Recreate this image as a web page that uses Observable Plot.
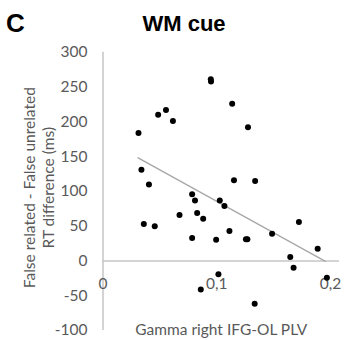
<!DOCTYPE html>
<html>
<head>
<meta charset="utf-8">
<script src="https://cdn.jsdelivr.net/npm/d3@7"></script>
<script src="https://cdn.jsdelivr.net/npm/@observablehq/plot@0.6"></script>
<style>
  html, body { margin: 0; padding: 0; background: #fff; }
  #chart svg { display: block; }
</style>
</head>
<body>
<div id="chart"></div>
<script>
// Data
const plvValues = [0.0948, 0.0950, 0.0485, 0.0554, 0.0615, 0.0312, 0.1136, 0.1275, 0.0338, 0.0404,
                   0.1152, 0.1338, 0.0784, 0.0809, 0.1027, 0.1068, 0.0673, 0.0828, 0.0881, 0.0359,
                   0.0455, 0.0784, 0.0995, 0.1112, 0.1257, 0.1270, 0.1487, 0.1723, 0.1888, 0.1647,
                   0.1676, 0.1015, 0.0860, 0.1334, 0.1969];
const rtDiffValues = [261, 258, 210, 217, 201, 184, 226, 192, 131, 110,
                      116, 115, 96, 87, 87, 79, 66, 69, 60.5, 53,
                      50, 33, 30.5, 43, 31, 31, 39, 56, 17.5, 5.6,
                      -9.8, -19.3, -41.1, -61.7, -24.3];
const trendX = [0.0309, 0.1956];
const trendY = [148.2, -0.5];
const yTicks = [-100, -50, 0, 50, 100, 150, 200, 250, 300];
const xTicks = [0, 0.1, 0.2];
const xTickLabels = ["0", "0,1", "0,2"];
const panelLabel = "C";
const titleText = "WM cue";
const xTitle = "Gamma right IFG-OL PLV";
const yTitle = "False related - False unrelated\nRT difference (ms)";

const points = plvValues.map((x, i) => ({x, y: rtDiffValues[i]}));
const trend = trendX.map((x, i) => ({x, y: trendY[i]}));

const gray = "#595959";
const axisGray = "#c6c6c6";
const fs = 15.5;

const chart = Plot.plot({
  width: 344,
  height: 340,
  marginLeft: 102.5,
  marginRight: 5,
  marginTop: 51.7,
  marginBottom: 10,
  style: {fontFamily: "Lato, 'Open Sans', sans-serif", background: "#fff", overflow: "visible"},
  x: {domain: [0, 0.208], axis: null},
  y: {domain: [-100, 300], axis: null},
  marks: [
    Plot.ruleY([0], {stroke: axisGray, strokeWidth: 1.5}),
    Plot.ruleX([0], {stroke: axisGray, strokeWidth: 1.5}),
    Plot.text(yTicks, {x: d => 0, y: d => d, text: d => String(d), textAnchor: "end", dx: -15.5, fill: gray, fontSize: fs}),
    Plot.text(xTicks, {x: d => d, y: d => 0, text: (d, i) => xTickLabels[i], dy: 23, fill: gray, fontSize: fs}),
    Plot.line(trend, {x: "x", y: "y", stroke: "#a8a8a8", strokeWidth: 1.4}),
    Plot.dot(points, {x: "x", y: "y", r: 3, fill: "#000", stroke: "none"}),
    Plot.text([xTitle], {frameAnchor: "bottom", text: d => d, textAnchor: "middle", lineAnchor: "middle", dy: 0, fill: gray, fontSize: fs}),
    Plot.text([yTitle], {frameAnchor: "top-left", text: d => d, rotate: -90, textAnchor: "middle", dx: -65, dy: 135.5, lineAnchor: "middle", lineHeight: 1.23, fill: gray, fontSize: fs}),
    Plot.text([titleText], {frameAnchor: "top-left", text: d => d, textAnchor: "middle", dx: 81, dy: -28, lineAnchor: "middle", fontWeight: "bold", fontFamily: "'Liberation Sans', Arial, sans-serif", fontSize: 22, fill: "#000"}),
    Plot.text([panelLabel], {frameAnchor: "top-left", text: d => d, textAnchor: "middle", dx: -87.5, dy: -29, lineAnchor: "middle", fontWeight: "bold", fontFamily: "'Liberation Sans', Arial, sans-serif", fontSize: 26, fill: "#000"})
  ]
});
document.getElementById("chart").appendChild(chart);
</script>
</body>
</html>
